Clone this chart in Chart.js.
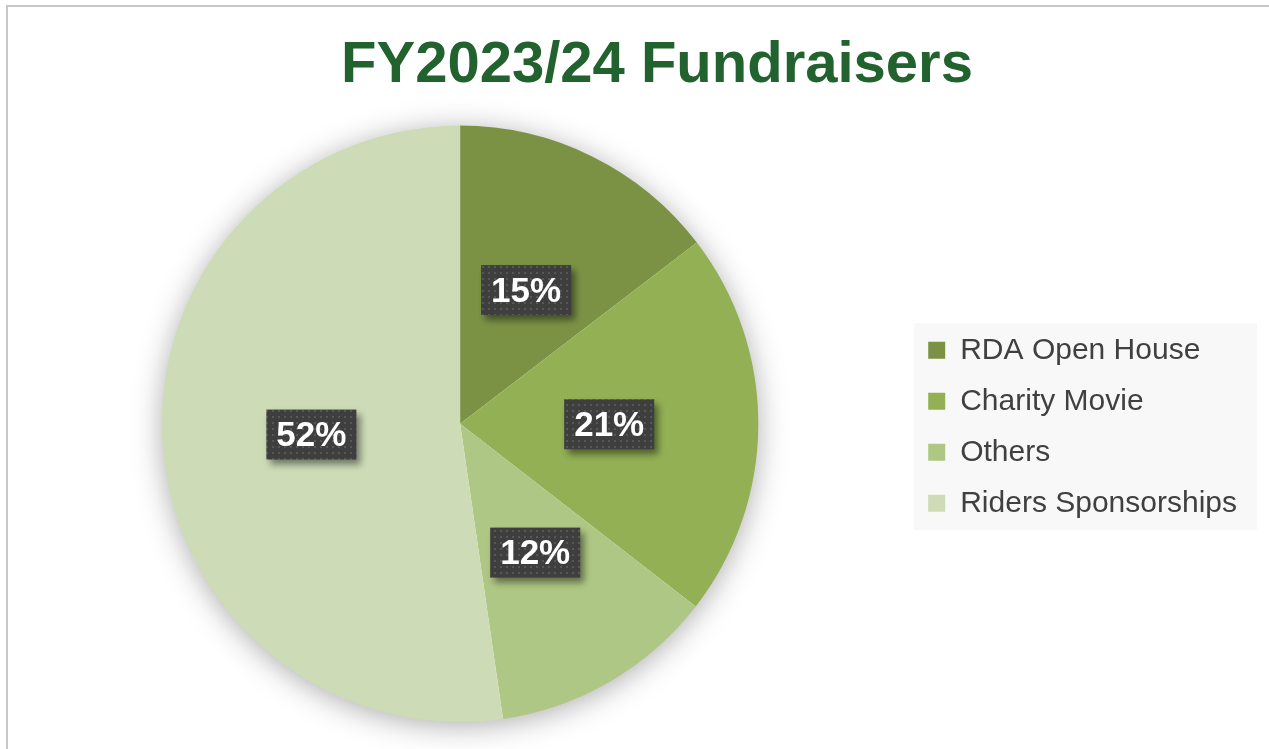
<!DOCTYPE html>
<html>
<head>
<meta charset="utf-8">
<script src="https://cdn.jsdelivr.net/npm/chart.js@4.4.1/dist/chart.umd.min.js"></script>
<style>
  html, body { margin: 0; padding: 0; background: #fff; }
  #wrap { width: 1269px; height: 749px; position: relative; }
</style>
</head>
<body>
<div id="wrap"><canvas id="pieChart"></canvas></div>
<script>
// chart data
const categories = ['RDA Open House', 'Charity Movie', 'Others', 'Riders Sponsorships'];
const shares = [14.6, 20.9, 12.2, 52.3];
const sliceColors = ['#7B9244', '#93B055', '#AFC784', '#CDDBB7'];
const chartTitle = 'FY2023/24 Fundraisers';

// dotted dark fill for the value labels
function makeDotPattern(ctx) {
    const c = document.createElement('canvas');
    c.width = 6;
    c.height = 6;
    const p = c.getContext('2d');
    p.fillStyle = '#3e3e3e';
    p.fillRect(0, 0, 6, 6);
    p.fillStyle = '#575757';
    p.fillRect(2, 2, 2, 2);
    return ctx.createPattern(c, 'repeat');
}

// nudge title and legend to where the original has them
const placePlugin = {
    id: 'place',
    afterLayout(chart) {
        const t = chart.titleBlock;
        t.left += 27;
        t.right += 27;
        const lg = chart.legend;
        lg.top += 3;
        lg.bottom += 3;
    }
};

// thin grey frame round the chart + legend background
const framePlugin = {
    id: 'frame',
    beforeDraw(chart) {
        const ctx = chart.ctx;
        ctx.save();
        ctx.strokeStyle = '#c8c8c8';
        ctx.lineWidth = 2;
        ctx.strokeRect(7, 6, chart.width + 20, chart.height + 20);

        const boxes = chart.legend.legendHitBoxes;
        if (boxes && boxes.length) {
            const first = boxes[0];
            const last = boxes[boxes.length - 1];
            const right = Math.max(...boxes.map(b => b.left + b.width));
            ctx.fillStyle = '#f8f8f8';
            ctx.fillRect(first.left - 14, first.top - 12, right - first.left + 34, last.top + last.height - first.top + 24);
        }
        ctx.restore();
    }
};

// soft shadow under the pie
const pieShadowPlugin = {
    id: 'pieShadow',
    beforeDatasetsDraw(chart) {
        const arc = chart.getDatasetMeta(0).data[0];
        if (!arc) return;
        const ctx = chart.ctx;
        ctx.save();
        ctx.shadowColor = 'rgba(0,0,0,0.34)';
        ctx.shadowBlur = 30;
        ctx.shadowOffsetY = 4;
        ctx.fillStyle = '#ffffff';
        ctx.beginPath();
        ctx.arc(arc.x, arc.y, arc.outerRadius - 1, 0, Math.PI * 2);
        ctx.fill();
        ctx.restore();
    }
};

// percentage labels in dark boxes
const valueLabelPlugin = {
    id: 'valueLabels',
    afterDatasetsDraw(chart) {
        const ctx = chart.ctx;
        const data = chart.data.datasets[0].data;
        const total = data.reduce((a, b) => a + b, 0);
        const pattern = makeDotPattern(ctx);
        chart.getDatasetMeta(0).data.forEach((arc, i) => {
            const pos = arc.tooltipPosition();
            const text = Math.round(data[i] / total * 100) + '%';
            ctx.save();
            ctx.font = 'bold 35px "Liberation Sans", Arial, sans-serif';
            const w = ctx.measureText(text).width + 20;
            const h = 50;
            const x = pos.x - w / 2;
            const y = pos.y - h / 2;

            ctx.shadowColor = 'rgba(0,0,0,0.45)';
            ctx.shadowBlur = 7;
            ctx.shadowOffsetX = 4;
            ctx.shadowOffsetY = 5;
            ctx.fillStyle = pattern;
            ctx.fillRect(x, y, w, h);

            ctx.shadowColor = 'transparent';
            ctx.fillStyle = '#ffffff';
            ctx.textAlign = 'center';
            ctx.textBaseline = 'middle';
            ctx.fillText(text, pos.x, pos.y + 2);
            ctx.restore();
        });
    }
};

const ctx = document.getElementById('pieChart').getContext('2d');
const pieChart = new Chart(ctx, {
    type: 'pie',
    data: {
        labels: categories,
        datasets: [{
            data: shares,
            backgroundColor: sliceColors,
            borderWidth: 0
        }]
    },
    options: {
        responsive: true,
        maintainAspectRatio: false,
        animation: false,
        layout: {
            padding: { top: 0, bottom: 27, left: 13, right: 22 }
        },
        plugins: {
            title: {
                display: true,
                text: chartTitle,
                color: '#22622F',
                font: { family: '"Liberation Sans", Arial, sans-serif', size: 58, weight: 'bold' },
                padding: { top: 31, bottom: 25 }
            },
            legend: {
                position: 'right',
                fullSize: false,
                labels: {
                    color: '#404040',
                    font: { family: '"Liberation Sans", Arial, sans-serif', size: 30 },
                    boxWidth: 17,
                    boxHeight: 17,
                    padding: 21
                }
            },
            tooltip: { enabled: false }
        }
    },
    plugins: [placePlugin, framePlugin, pieShadowPlugin, valueLabelPlugin]
});
</script>
</body>
</html>
